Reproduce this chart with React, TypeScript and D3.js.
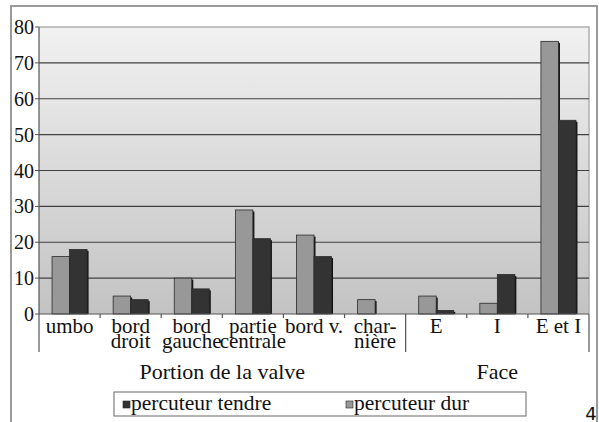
import React, { useRef, useEffect } from "react";
import * as d3 from "d3";

const categories = ["umbo", "bord droit", "bord gauche", "partie centrale", "bord v.", "charnière", "E", "I", "E et I"];
const categoryLines = [["umbo"], ["bord", "droit"], ["bord", "gauche"], ["partie", "centrale"], ["bord v."], ["char-", "nière"], ["E"], ["I"], ["E et I"]];
const percuteurDur = [16, 5, 10, 29, 22, 4, 5, 3, 76];
const percuteurTendre = [18, 4, 7, 21, 16, 0, 1, 11, 54];
const yTicks = [0, 10, 20, 30, 40, 50, 60, 70, 80];
const groups = [
  { label: "Portion de la valve", from: 0, to: 6 },
  { label: "Face", from: 6, to: 9 },
];

const W = 599;
const H = 422;
const font = "Liberation Serif, Tinos, Times New Roman, DejaVu Serif, serif";

const App: React.FC = () => {
  const svgRef = useRef<SVGSVGElement | null>(null);

  useEffect(() => {
    if (!svgRef.current) return;
    const svg = d3.select(svgRef.current);
    svg.selectAll("*").remove();

    const left = 39, right = 589, top = 27, bottom = 314;

    const x = d3.scaleBand().domain(categories).range([left, right]).padding(0);
    const x1 = d3.scaleBand().domain(["dur", "tendre"]).range([0, x.bandwidth()]).paddingInner(0).paddingOuter(0.745);
    const y = d3.scaleLinear().domain([0, 80]).range([bottom, top]);

    // outer frame
    svg.append("path")
      .attr("d", `M11,${H} L11,6 L597,6 L597,${H}`)
      .attr("fill", "none").attr("stroke", "#9a9a9a").attr("stroke-width", 2);

    // plot background gradient
    const defs = svg.append("defs");
    const grad = defs.append("linearGradient").attr("id", "bg").attr("x1", 0).attr("y1", 0).attr("x2", 0).attr("y2", 1);
    grad.append("stop").attr("offset", "0%").attr("stop-color", "#f1f1f1");
    grad.append("stop").attr("offset", "100%").attr("stop-color", "#c3c3c3");
    svg.append("rect").attr("x", left).attr("y", top).attr("width", right - left).attr("height", bottom - top).attr("fill", "url(#bg)");

    // plot border (top/right light)
    svg.append("path").attr("d", `M${left},${top} L${right},${top} L${right},${bottom}`)
      .attr("fill", "none").attr("stroke", "#b0b0b0").attr("stroke-width", 1.5);

    // gridlines
    svg.append("g").selectAll("line").data(yTicks.filter((t) => t > 0 && t < 80)).join("line")
      .attr("x1", left).attr("x2", right)
      .attr("y1", (d) => y(d)).attr("y2", (d) => y(d))
      .attr("stroke", "#404040").attr("stroke-width", 1.2);

    // bars
    const series = [
      { key: "dur", values: percuteurDur, fill: "#989898" },
      { key: "tendre", values: percuteurTendre, fill: "#333333" },
    ];
    series.forEach((s) => {
      const g = svg.append("g");
      const data = categories.map((c, i) => ({ c, v: s.values[i] })).filter((d) => d.v > 0);
      g.selectAll("rect.shadow").data(data).join("rect").attr("class", "shadow")
        .attr("x", (d) => x(d.c)! + x1(s.key)! + 1.5)
        .attr("y", (d) => y(d.v) + 1.5)
        .attr("width", x1.bandwidth())
        .attr("height", (d) => bottom - y(d.v) - 1.5)
        .attr("fill", "#111");
      g.selectAll("rect.bar").data(data).join("rect").attr("class", "bar")
        .attr("x", (d) => x(d.c)! + x1(s.key)!)
        .attr("y", (d) => y(d.v))
        .attr("width", x1.bandwidth())
        .attr("height", (d) => bottom - y(d.v))
        .attr("fill", s.fill).attr("stroke", "#2a2a2a").attr("stroke-width", 0.8);
    });

    // y axis
    svg.append("line").attr("x1", left).attr("x2", left).attr("y1", top).attr("y2", bottom)
      .attr("stroke", "#555").attr("stroke-width", 1.2);
    const yg = svg.append("g");
    yg.selectAll("line").data(yTicks).join("line")
      .attr("x1", left - 4).attr("x2", left).attr("y1", (d) => y(d)).attr("y2", (d) => y(d))
      .attr("stroke", "#555");
    yg.selectAll("text").data(yTicks).join("text")
      .attr("x", 34).attr("y", (d) => y(d) + 7)
      .attr("text-anchor", "end").style("font-family", font).attr("font-size", 20).attr("fill", "#111")
      .text((d) => d);

    // x axis
    svg.append("line").attr("x1", left).attr("x2", right).attr("y1", bottom).attr("y2", bottom)
      .attr("stroke", "#555").attr("stroke-width", 1.2);
    const bounds = d3.range(categories.length + 1).map((i) => left + i * x.step());
    const longIdx = new Set(groups.flatMap((g) => [g.from, g.to]));
    svg.append("g").selectAll("line").data(bounds).join("line")
      .attr("x1", (d) => d).attr("x2", (d) => d)
      .attr("y1", bottom).attr("y2", (_, i) => (longIdx.has(i) ? 352 : bottom + 4))
      .attr("stroke", "#555").attr("stroke-width", 1.2);

    const lab = svg.append("g").style("font-family", font).attr("font-size", 21).attr("fill", "#111").attr("text-anchor", "middle");
    categories.forEach((c, i) => {
      const cx = x(c)! + x.bandwidth() / 2;
      const t = lab.append("text").attr("x", cx).attr("y", 333);
      categoryLines[i].forEach((line, j) => {
        t.append("tspan").attr("x", cx).attr("dy", j === 0 ? 0 : 15).text(line);
      });
    });

    svg.append("g").selectAll("text").data(groups).join("text")
      .attr("x", (d) => (bounds[d.from] + bounds[d.to]) / 2).attr("y", 379)
      .attr("text-anchor", "middle").style("font-family", font).attr("font-size", 22).attr("fill", "#111")
      .text((d) => d.label);

    // legend
    const lg = svg.append("g");
    lg.append("rect").attr("x", 114).attr("y", 392).attr("width", 412).attr("height", 24)
      .attr("fill", "#fff").attr("stroke", "#666").attr("stroke-width", 1);
    const items = [
      { label: "percuteur tendre", fill: "#333333", x: 123 },
      { label: "percuteur dur", fill: "#989898", x: 346 },
    ];
    items.forEach((it) => {
      lg.append("rect").attr("x", it.x).attr("y", 401).attr("width", 7).attr("height", 7)
        .attr("fill", it.fill).attr("stroke", "#222").attr("stroke-width", 0.6);
      lg.append("text").attr("x", it.x + 8).attr("y", 410).style("font-family", font).attr("font-size", 21.5)
        .attr("fill", "#111").text(it.label);
    });

    svg.append("text").attr("x", 591).attr("y", 420).attr("text-anchor", "middle")
      .style("font-family", "DejaVu Sans, sans-serif").attr("font-size", 18).attr("fill", "#111").text("4");
  }, []);

  return <svg ref={svgRef} width={W} height={H} style={{ position: "absolute", left: 0, top: 0, background: "#fff" }}></svg>;
};

export default App;
